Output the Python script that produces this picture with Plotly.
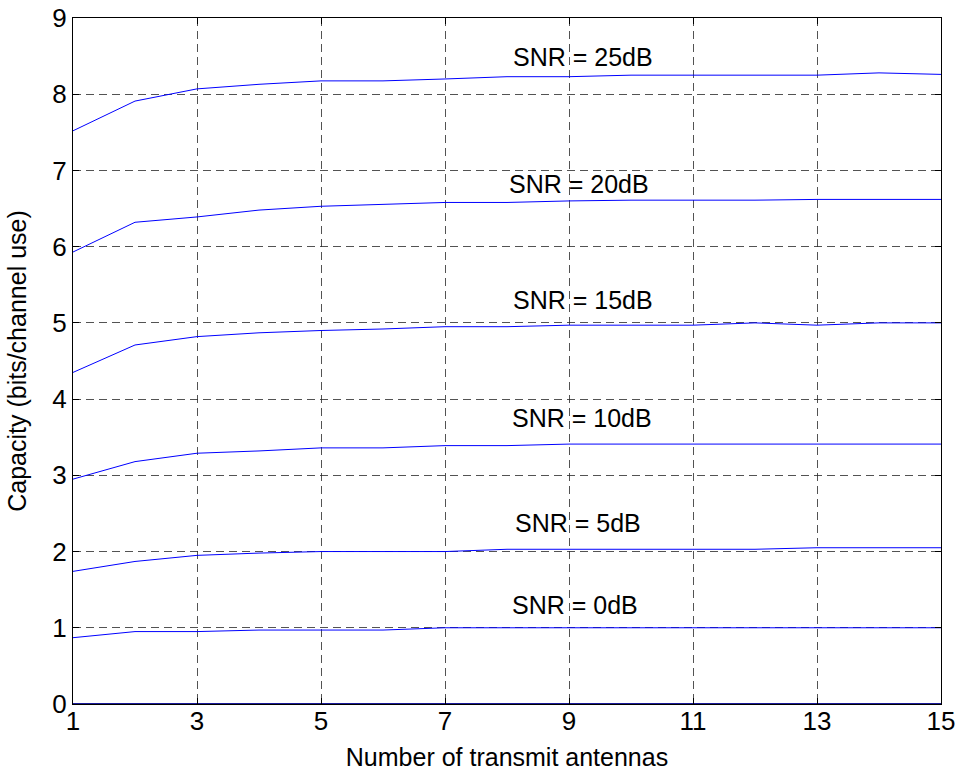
import plotly.graph_objects as go

# Number of transmit antennas
antennas = list(range(1, 16))

# Capacity (bits/channel use) per SNR level
cap_0db = [0.87, 0.95, 0.95, 0.97, 0.97, 0.97, 1.00, 1.00, 1.00, 1.00, 1.00, 1.00, 1.00, 1.00, 1.00]
cap_5db = [1.74, 1.87, 1.95, 1.98, 2.00, 2.00, 2.00, 2.03, 2.03, 2.03, 2.03, 2.03, 2.05, 2.05, 2.05]
cap_10db = [2.95, 3.18, 3.29, 3.32, 3.36, 3.36, 3.39, 3.39, 3.41, 3.41, 3.41, 3.41, 3.41, 3.41, 3.41]
cap_15db = [4.35, 4.71, 4.82, 4.87, 4.90, 4.92, 4.95, 4.95, 4.97, 4.97, 4.97, 5.00, 4.97, 5.00, 5.00]
cap_20db = [5.93, 6.32, 6.39, 6.48, 6.53, 6.55, 6.58, 6.58, 6.60, 6.61, 6.61, 6.61, 6.62, 6.62, 6.62]
cap_25db = [7.52, 7.91, 8.07, 8.13, 8.175, 8.175, 8.20, 8.23, 8.23, 8.25, 8.25, 8.25, 8.25, 8.28, 8.26]
cap_base = [0.0] * 15

series = [cap_0db, cap_5db, cap_10db, cap_15db, cap_20db, cap_25db]
labels = ["SNR = 0dB", "SNR = 5dB", "SNR = 10dB", "SNR = 15dB", "SNR = 20dB", "SNR = 25dB"]
label_x = [8.05, 8.1, 8.05, 8.06, 8.0, 8.06]
label_y = [1.30, 2.37, 3.75, 5.30, 6.82, 8.49]

x_ticks = [1, 3, 5, 7, 9, 11, 13, 15]
y_ticks = list(range(0, 10))

FONT = "Liberation Sans, Arial, sans-serif"

fig = go.Figure()
for ys in series:
    fig.add_trace(go.Scatter(x=antennas, y=ys, mode="lines",
                             line=dict(color="#0000ff", width=1), showlegend=False))

fig.add_trace(go.Scatter(x=antennas, y=cap_base, mode="lines",
                         line=dict(color="#1a1a9a", width=2), showlegend=False,
                         cliponaxis=False))

for txt, lx, ly in zip(labels, label_x, label_y):
    fig.add_annotation(x=lx, y=ly, text=txt, showarrow=False, xanchor="left",
                       yanchor="middle", font=dict(family=FONT, size=25, color="black"))

axis_common = dict(
    showline=True, linecolor="black", linewidth=1, mirror="ticks",
    ticks="inside", ticklen=6, tickcolor="black",
    showgrid=True, gridcolor="rgba(40,40,40,0.8)", gridwidth=1, griddash="8px,5px",
    zeroline=False, automargin=False,
    tickfont=dict(family=FONT, size=26, color="black"),
)

fig.update_xaxes(range=[1, 15], tickvals=x_ticks, ticklabelstandoff=-6, **axis_common,
                 title=dict(text="Number of transmit antennas", standoff=20,
                            font=dict(family=FONT, size=25, color="black")))
fig.update_yaxes(range=[0, 9], tickvals=y_ticks, **axis_common,
                 title=dict(text="Capacity (bits/channel use)", standoff=18,
                            font=dict(family=FONT, size=25, color="black")))

fig.update_layout(
    width=959, height=771,
    margin=dict(l=73, r=18, t=18, b=67),
    paper_bgcolor="white", plot_bgcolor="white",
)

fig.write_html("out.html")
